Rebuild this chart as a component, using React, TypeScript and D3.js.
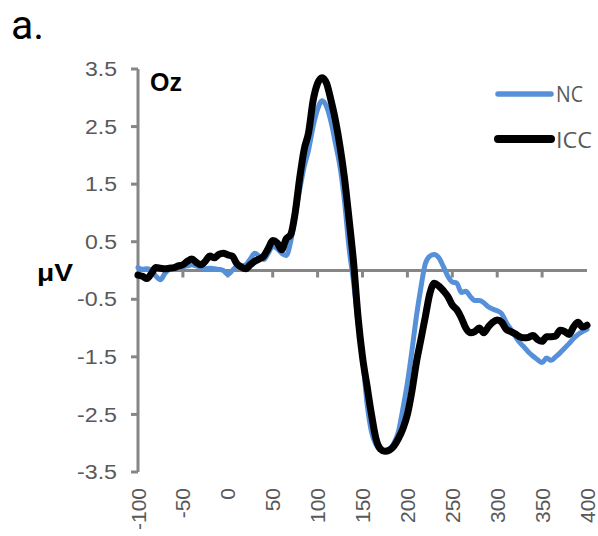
import React from "react";
import * as d3 from "d3";

// Time axis of the averaged ERP (ms), 5 ms resolution
const times: number[] = d3.range(-100, 401, 5);

// Grand-average amplitude at Oz (µV), one value per time step
const ncValues: number[] = [
  0.05, 0.02, 0.03, 0.0, -0.1, -0.16, -0.05, 0.02, 0.04, 0.05,
  0.07, 0.08, 0.1, 0.08, 0.05, 0.03, 0.04, 0.03, 0.02, 0.0,
  -0.07, 0.0, 0.07, 0.08, 0.1, 0.2, 0.3, 0.25, 0.19, 0.3,
  0.42, 0.38, 0.3, 0.26, 0.5, 0.95, 1.4, 1.8, 2.1, 2.5,
  2.8, 2.95, 2.85, 2.58, 2.2, 1.8, 1.2, 0.4, -0.2, -0.9,
  -1.5, -2.3, -2.8, -3.02, -3.12, -3.14, -3.1, -3.0, -2.8, -2.4,
  -1.95, -1.4, -0.8, -0.3, 0.12, 0.25, 0.28, 0.22, 0.07, -0.1,
  -0.2, -0.22, -0.38, -0.36, -0.45, -0.52, -0.52, -0.56, -0.63, -0.67,
  -0.7, -0.75, -0.9, -1.02, -1.14, -1.25, -1.33, -1.42, -1.49, -1.55,
  -1.6, -1.52, -1.56, -1.5, -1.43, -1.35, -1.27, -1.18, -1.11, -1.06,
  -1.02,
];

const iccValues: number[] = [
  -0.08, -0.1, -0.14, -0.05, 0.05, 0.04, 0.03, 0.04, 0.05, 0.08,
  0.1, 0.16, 0.2, 0.14, 0.1, 0.16, 0.25, 0.22, 0.28, 0.3,
  0.27, 0.25, 0.12, 0.06, 0.03, 0.1, 0.16, 0.2, 0.25, 0.38,
  0.52, 0.48, 0.36, 0.55, 0.62, 1.0, 1.6, 2.1, 2.4, 2.95,
  3.25, 3.35, 3.25, 2.95, 2.6, 2.15, 1.6, 0.9, 0.15, -0.8,
  -1.5, -2.0, -2.5, -2.92, -3.1, -3.14, -3.12, -3.05, -2.92, -2.75,
  -2.5, -2.1, -1.6, -1.2, -0.8, -0.4, -0.22, -0.27, -0.35, -0.45,
  -0.6, -0.68, -0.82, -1.0, -1.08, -1.06, -1.0, -1.08, -0.98, -0.9,
  -0.86, -0.9, -1.02, -1.06, -1.1, -1.15, -1.17, -1.16, -1.13, -1.2,
  -1.23, -1.15, -1.15, -1.14, -1.04, -1.06, -1.11, -0.98, -0.9, -0.98,
  -0.95,
];

const yTicks: number[] = [3.5, 2.5, 1.5, 0.5, -0.5, -1.5, -2.5, -3.5];
const xTickLabels: number[] = [-100, -50, 0, 50, 100, 150, 200, 250, 300, 350, 400];
const xTickMarks: number[] = [-50, 0, 50, 100, 150, 200, 250, 300, 350];

const seriesNames = ["NC", "ICC"];
const seriesColors = ["#5590d8", "#000000"];

const W = 598;
const H = 536;
const axisColor = "#868686";
const labelColor = "#595959";

export default function App() {
  const x = d3.scaleLinear().domain([-100, 400]).range([138, 587]);
  const y = d3.scaleLinear().domain([-3.5, 3.5]).range([472, 69]);

  const line = d3
    .line<number>()
    .x((_, i) => x(times[i]))
    .y((v) => y(v))
    .curve(d3.curveMonotoneX);

  const series = [ncValues, iccValues];
  const widths = [5, 7];
  const legendWidths = [5.5, 8];
  const legendY = [94, 139];
  const legendTextY = [101.5, 148];

  return (
    <svg
      width={W}
      height={H}
      style={{ position: "absolute", left: 0, top: 0, background: "#fff" }}
    >
      <rect width={W} height={H} fill="#fff" />
      {/* panel letter */}
      <text x={11} y={39} fontFamily="Roboto, sans-serif" fontSize={41} fill="#000">
        a.
      </text>

      {/* y axis */}
      <line x1={x(-100)} x2={x(-100)} y1={y(3.5)} y2={y(-3.5)} stroke={axisColor} strokeWidth={3} />
      {yTicks.map((t) => (
        <g key={t}>
          <line x1={x(-100) - 7} x2={x(-100)} y1={y(t)} y2={y(t)} stroke={axisColor} strokeWidth={3} />
          <text
            x={117}
            y={y(t)}
            dy="0.36em"
            textAnchor="end"
            fontFamily="'Liberation Sans', Arial, sans-serif"
            fontSize={20}
            fill={labelColor}
            textLength={t < 0 ? 40 : 32}
            lengthAdjust="spacingAndGlyphs"
          >
            {t.toFixed(1)}
          </text>
        </g>
      ))}

      {/* x axis at 0 µV */}
      <line x1={x(-100)} x2={x(400)} y1={y(0)} y2={y(0)} stroke={axisColor} strokeWidth={3} />
      {xTickMarks.map((t) => (
        <line key={t} x1={x(t)} x2={x(t)} y1={y(0)} y2={y(0) + 7} stroke={axisColor} strokeWidth={3} />
      ))}
      {xTickLabels.map((t) => (
        <text
          key={t}
          transform={`translate(${x(t) + 7.5},488) rotate(-90)`}
          textAnchor="end"
          fontFamily="'Liberation Sans', Arial, sans-serif"
          fontSize={21}
          fill={labelColor}
        >
          {t}
        </text>
      ))}

      <text
        x={37}
        y={280.5}
        fontFamily="'Liberation Sans', Arial, sans-serif"
        fontWeight="bold"
        fontSize={24}
        fill="#000"
        textLength={36}
        lengthAdjust="spacingAndGlyphs"
      >
        μV
      </text>
      <text
        x={150}
        y={90.5}
        fontFamily="'Liberation Sans', Arial, sans-serif"
        fontWeight="bold"
        fontSize={25}
        fill="#000"
      >
        Oz
      </text>

      {/* waveforms */}
      {series.map((vals, i) => (
        <path
          key={seriesNames[i]}
          d={line(vals) ?? ""}
          fill="none"
          stroke={seriesColors[i]}
          strokeWidth={widths[i]}
          strokeLinejoin="round"
          strokeLinecap="round"
        />
      ))}

      {/* legend */}
      {seriesNames.map((name, i) => (
        <g key={name}>
          <line
            x1={498}
            x2={551}
            y1={legendY[i]}
            y2={legendY[i]}
            stroke={seriesColors[i]}
            strokeWidth={legendWidths[i]}
            strokeLinecap="round"
          />
          <text
            x={556}
            y={legendTextY[i]}
            fontFamily="'Open Sans', sans-serif"
            fontSize={21}
            fill={labelColor}
            textLength={name === "NC" ? 27 : 36}
            lengthAdjust="spacingAndGlyphs"
          >
            {name}
          </text>
        </g>
      ))}
    </svg>
  );
}
